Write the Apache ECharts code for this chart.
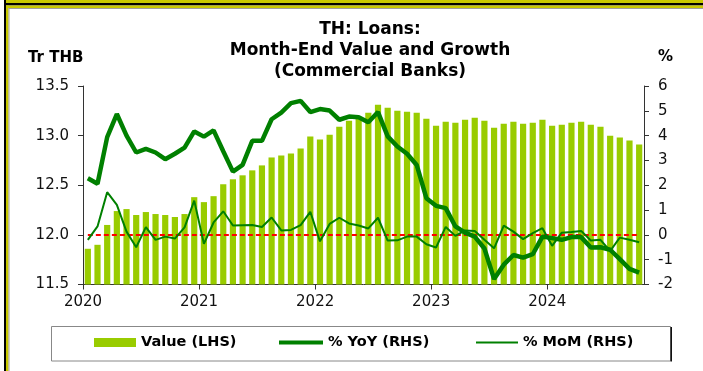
<!DOCTYPE html>
<html>
<head>
<meta charset="utf-8">
<script src="https://cdn.jsdelivr.net/npm/echarts@6/dist/echarts.min.js"></script>
<style>
  html, body { margin: 0; padding: 0; background: #fff; }
  #chart { width: 703px; height: 371px; }
</style>
</head>
<body>
<div id="chart"></div>
<script>
// Month-end categories, Jan 2020 – Oct 2024
const categories = [
  '2020-01','2020-02','2020-03','2020-04','2020-05','2020-06','2020-07','2020-08','2020-09','2020-10','2020-11','2020-12',
  '2021-01','2021-02','2021-03','2021-04','2021-05','2021-06','2021-07','2021-08','2021-09','2021-10','2021-11','2021-12',
  '2022-01','2022-02','2022-03','2022-04','2022-05','2022-06','2022-07','2022-08','2022-09','2022-10','2022-11','2022-12',
  '2023-01','2023-02','2023-03','2023-04','2023-05','2023-06','2023-07','2023-08','2023-09','2023-10','2023-11','2023-12',
  '2024-01','2024-02','2024-03','2024-04','2024-05','2024-06','2024-07','2024-08','2024-09','2024-10'
];

// Year labels along the bottom axis (one per 12 months)
const yearTicks = ['2020', '2021', '2022', '2023', '2024'];

// Outstanding loans, trillion THB (left axis)
const loanValue = [
  11.86, 11.90, 12.10, 12.24, 12.26, 12.20, 12.23, 12.21, 12.20, 12.18, 12.21, 12.38,
  12.33, 12.39, 12.51, 12.56, 12.60, 12.65, 12.70, 12.78, 12.80, 12.82, 12.87, 12.99,
  12.96, 13.01, 13.09, 13.15, 13.19, 13.23, 13.31, 13.28, 13.25, 13.24, 13.23, 13.17,
  13.10, 13.14, 13.13, 13.16, 13.18, 13.15, 13.08, 13.12, 13.14, 13.12, 13.13, 13.16,
  13.10, 13.11, 13.13, 13.14, 13.11, 13.09, 13.00, 12.98, 12.95, 12.91
];

// Year-on-year growth, % (right axis)
const yoyGrowth = [
  2.28, 2.06, 3.94, 4.87, 4.00, 3.32, 3.47, 3.32, 3.05, 3.27, 3.52, 4.17,
  3.96, 4.21, 3.37, 2.55, 2.82, 3.79, 3.79, 4.66, 4.93, 5.31, 5.40, 4.95,
  5.07, 5.01, 4.64, 4.77, 4.74, 4.54, 4.95, 3.97, 3.56, 3.27, 2.82, 1.48,
  1.17, 1.08, 0.34, 0.09, -0.07, -0.55, -1.78, -1.20, -0.81, -0.92, -0.78, -0.07,
  -0.13, -0.20, -0.09, -0.09, -0.51, -0.50, -0.60, -0.98, -1.37, -1.52
];

// Month-on-month growth, % (right axis)
const momGrowth = [
  -0.20, 0.34, 1.72, 1.21, 0.13, -0.50, 0.31, -0.20, -0.07, -0.15, 0.30, 1.38,
  -0.36, 0.50, 0.95, 0.38, 0.39, 0.40, 0.32, 0.70, 0.18, 0.20, 0.39, 0.93,
  -0.26, 0.44, 0.69, 0.46, 0.38, 0.26, 0.69, -0.23, -0.22, -0.07, -0.07, -0.38,
  -0.51, 0.32, -0.04, 0.18, 0.16, -0.20, -0.54, 0.37, 0.13, -0.17, 0.07, 0.27,
  -0.44, 0.09, 0.12, 0.16, -0.23, -0.20, -0.65, -0.11, -0.20, -0.30
];

const FONT = 'DejaVu Sans';
const AXIS_COLOR = '#333';
const LINE_GREEN = '#008000';
const FRAME_YELLOW = '#C8C800';
const FRAME_GREY = '#A0A0A0';

const yearTickPos = yearTicks.map((_, i) => i * 12);

const legendText = { fontFamily: FONT, fontSize: 14.5, fontWeight: 'bold', color: '#000' };

const chart = echarts.init(document.getElementById('chart'), null, { renderer: 'canvas' });

chart.setOption({
  animation: false,
  backgroundColor: '#fff',
  title: {
    text: 'TH: Loans:\nMonth-End Value and Growth\n(Commercial Banks)',
    left: 370,
    top: 19,
    textAlign: 'center',
    padding: 0,
    textStyle: { fontFamily: FONT, fontSize: 17, fontWeight: 'bold', color: '#000', lineHeight: 21 }
  },
  grid: { left: 83, right: 59, top: 86, bottom: 86.5 },
  xAxis: [
    {
      // band axis carrying the monthly marks
      type: 'category',
      data: categories,
      position: 'top',
      boundaryGap: true,
      show: false
    },
    {
      // year ticks sit on the January band edges
      type: 'value',
      position: 'bottom',
      min: 0,
      max: categories.length,
      interval: 12,
      splitLine: { show: false },
      axisLine: { show: true, lineStyle: { color: AXIS_COLOR, width: 1 } },
      axisTick: { show: true, length: 5, customValues: yearTickPos, lineStyle: { color: AXIS_COLOR } },
      axisLabel: {
        customValues: yearTickPos,
        formatter: v => yearTicks[Math.round(v / 12)],
        margin: 10,
        fontFamily: FONT,
        fontSize: 15,
        color: '#111'
      }
    }
  ],
  yAxis: [
    {
      type: 'value',
      position: 'left',
      min: 11.5,
      max: 13.5,
      interval: 0.5,
      splitLine: { show: false },
      axisLine: { show: true, lineStyle: { color: AXIS_COLOR, width: 1 } },
      axisTick: { show: true, length: 5, lineStyle: { color: AXIS_COLOR } },
      axisLabel: { formatter: v => v.toFixed(1), margin: 14, fontFamily: FONT, fontSize: 15, color: '#111' }
    },
    {
      type: 'value',
      position: 'right',
      min: -2,
      max: 6,
      interval: 1,
      splitLine: { show: false },
      axisLine: { show: true, lineStyle: { color: AXIS_COLOR, width: 1 } },
      axisTick: { show: true, length: 5, lineStyle: { color: AXIS_COLOR } },
      axisLabel: { margin: 14, fontFamily: FONT, fontSize: 15, color: '#111' }
    }
  ],
  legend: [
    {
      data: ['Value (LHS)'], left: 94, top: 335, padding: 0,
      itemWidth: 42, itemHeight: 9, icon: 'rect', selectedMode: false, textStyle: legendText
    },
    {
      // plain stroke swatch, thickness matching the YoY line
      data: ['% YoY (RHS)'], left: 279, top: 335, padding: 0,
      itemWidth: 44, itemHeight: 4, icon: 'rect', selectedMode: false, textStyle: legendText
    },
    {
      data: ['% MoM (RHS)'], left: 476, top: 335, padding: 0,
      itemWidth: 42, itemHeight: 2, icon: 'rect', selectedMode: false, textStyle: legendText
    }
  ],
  series: [
    {
      name: 'Value (LHS)',
      type: 'bar',
      xAxisIndex: 0,
      yAxisIndex: 0,
      data: loanValue,
      barWidth: '64%',
      itemStyle: { color: '#99CC00' },
      z: 1
    },
    {
      name: '% YoY (RHS)',
      type: 'line',
      xAxisIndex: 0,
      yAxisIndex: 1,
      data: yoyGrowth,
      symbol: 'none',
      lineStyle: { color: LINE_GREEN, width: 4.5 },
      itemStyle: { color: LINE_GREEN },
      z: 4
    },
    {
      name: '% MoM (RHS)',
      type: 'line',
      xAxisIndex: 0,
      yAxisIndex: 1,
      data: momGrowth,
      symbol: 'none',
      lineStyle: { color: LINE_GREEN, width: 2 },
      itemStyle: { color: LINE_GREEN },
      z: 3,
      markLine: {
        silent: true,
        symbol: 'none',
        z: 2,
        label: { show: false },
        lineStyle: { color: '#FF0000', width: 2, type: [5, 3] },
        data: [[
          { coord: [categories[0], 0] },
          { coord: [categories[categories.length - 1], 0] }
        ]]
      }
    }
  ],
  graphic: [
    // outer frame: yellow / black / yellow / grey bands along top and left
    { type: 'rect', silent: true, shape: { x: 6, y: 0, width: 697, height: 3 }, style: { fill: FRAME_YELLOW } },
    { type: 'rect', silent: true, shape: { x: 4, y: 3, width: 699, height: 2.5 }, style: { fill: '#000' } },
    { type: 'rect', silent: true, shape: { x: 4, y: 0, width: 2, height: 371 }, style: { fill: '#000' } },
    { type: 'rect', silent: true, shape: { x: 6, y: 5.5, width: 697, height: 2.5 }, style: { fill: FRAME_YELLOW } },
    { type: 'rect', silent: true, shape: { x: 6, y: 5.5, width: 2.5, height: 366 }, style: { fill: FRAME_YELLOW } },
    { type: 'rect', silent: true, shape: { x: 8.5, y: 8, width: 695, height: 1 }, style: { fill: FRAME_GREY } },
    { type: 'rect', silent: true, shape: { x: 8.5, y: 8, width: 1, height: 363 }, style: { fill: FRAME_GREY } },
    // legend box with a dark edge on the right
    { type: 'rect', silent: true, z: -1, shape: { x: 51.5, y: 326.5, width: 619, height: 34.5 },
      style: { fill: '#fff', stroke: '#888', lineWidth: 1 } },
    { type: 'rect', silent: true, shape: { x: 670.5, y: 327, width: 1.5, height: 34.5 }, style: { fill: '#111' } },
    // axis titles
    { type: 'text', silent: true, left: 28, top: 51,
      style: { text: 'Tr THB', font: 'bold 15px "DejaVu Sans"', fill: '#000' } },
    { type: 'text', silent: true, left: 658, top: 50,
      style: { text: '%', font: 'bold 15px "DejaVu Sans"', fill: '#000' } }
  ]
});
</script>
</body>
</html>
